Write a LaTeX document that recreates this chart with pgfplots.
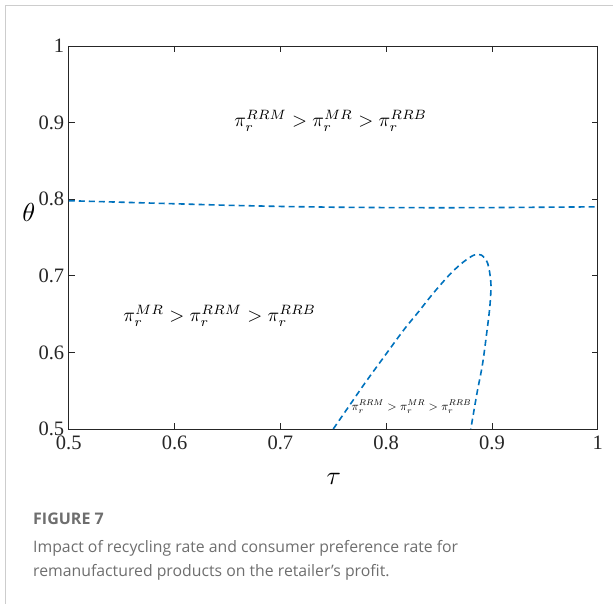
\documentclass[border=0pt]{standalone}
\usepackage{fontspec}
\usepackage{graphicx}
\usepackage{pgfplots}
\pgfplotsset{compat=1.18}
\newfontfamily\capfont{Open Sans}
\newfontfamily\tickfont{Liberation Serif}
\definecolor{mblue}{RGB}{0,114,189}
\definecolor{capgray}{RGB}{110,110,110}
\definecolor{framegray}{RGB}{205,205,205}
\definecolor{axgray}{RGB}{38,38,38}
\begin{document}
\begin{tikzpicture}[x=1pt,y=1pt]
\useasboundingbox (0,0) rectangle (613,604);
\draw[color=framegray, line width=1.2pt] (5.5,0) -- (5.5,598.5) -- (613,598.5);
\begin{axis}[at={(65,228.5)}, anchor=south west, width=529pt, height=383pt, scale only axis,
  xmin=0.5, xmax=1, ymin=0.5, ymax=1,
  xtick={0.5,0.6,0.7,0.8,0.9,1}, xticklabels={0.5,0.6,0.7,0.8,0.9,1},
  ytick={0.5,0.6,0.7,0.8,0.9,1}, yticklabels={0.5,0.6,0.7,0.8,0.9,1},
  tick align=inside, major tick length=6pt,
  axis line style={color=axgray, line width=0.9pt},
  every tick/.style={color=axgray, line width=0.9pt},
  ticklabel style={font=\tickfont\fontsize{20.5}{22}\selectfont, color=axgray},
  xticklabel style={yshift=-3pt},
  yticklabel style={xshift=-1pt},
  /pgf/number format/assume math mode=true,
  xlabel={\scalebox{2.6}{$\tau$}},
  ylabel={\scalebox{2.6}{$\theta$}},
  xlabel style={at={(axis description cs:0.501,-0.1305)}, anchor=center},
  ylabel style={rotate=-90, at={(axis description cs:-0.0756,0.565)}, anchor=center},
  clip=false]
\addplot[color=mblue, line width=1.6pt, dash pattern=on 6pt off 4pt] coordinates {
(0.5,0.798) (0.55,0.796) (0.6,0.794) (0.65,0.792) (0.7,0.7905) (0.75,0.7895)
(0.8,0.789) (0.85,0.7888) (0.9,0.789) (0.95,0.7895) (1,0.790)};
\addplot[color=mblue, line width=1.6pt, dash pattern=on 6pt off 4pt, smooth, tension=0.5] coordinates {
(0.75,0.5) (0.765,0.53) (0.78,0.56) (0.80,0.598) (0.817,0.630) (0.83,0.652) (0.845,0.678)
(0.861,0.703) (0.873,0.718) (0.883,0.727) (0.89,0.727) (0.896,0.716) (0.899,0.690) (0.898,0.660)
(0.895,0.625) (0.891,0.584) (0.886,0.548) (0.88,0.5)};
\node at (axis cs:0.7476,0.902) {\scalebox{1.93}{$\pi_r^{RRM}>\pi_r^{MR}>\pi_r^{RRB}$}};
\node at (axis cs:0.6427,0.6475) {\scalebox{1.93}{$\pi_r^{MR}>\pi_r^{RRM}>\pi_r^{RRB}$}};
\node at (axis cs:0.824,0.529) {\scalebox{1.2}{$\pi_r^{RRM}>\pi_r^{MR}>\pi_r^{RRB}$}};
\end{axis}
\node[anchor=base west, inner sep=0pt, text=capgray] at (33,79) {\capfont\bfseries\fontsize{16}{18}\selectfont FIGURE 7};
\node[anchor=base west, inner sep=0pt, text=capgray] at (33,51) {\capfont\fontsize{15.8}{18}\selectfont Impact of recycling rate and consumer preference rate for};
\node[anchor=base west, inner sep=0pt, text=capgray] at (33,27) {\capfont\fontsize{15.8}{18}\selectfont remanufactured products on the retailer’s profit.};
\end{tikzpicture}
\end{document}
